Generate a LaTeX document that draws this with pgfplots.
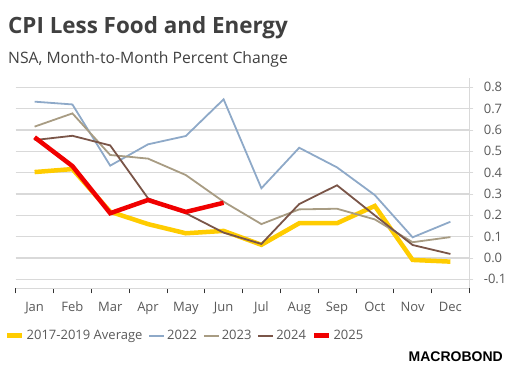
\documentclass[border=0pt]{standalone}
\usepackage{pgfplots}
\pgfplotsset{compat=1.18}
\usepackage{fontspec}
\setmainfont{Open Sans}
\newfontfamily\logofont{Liberation Sans}
\definecolor{cyel}{HTML}{FFCC00}
\definecolor{cblue}{HTML}{8EA9C8}
\definecolor{ctan}{HTML}{A89C83}
\definecolor{cbrown}{HTML}{7A5548}
\definecolor{cred}{HTML}{F00000}
\definecolor{ctxt}{HTML}{404040}
\definecolor{clab}{HTML}{595959}
\definecolor{cgrid}{HTML}{D9D9D9}
\begin{document}
\begin{tikzpicture}[x=1pt,y=1pt]
\path[use as bounding box] (0,0) rectangle (511,377);
\node[anchor=base west,inner sep=0,text=ctxt,font=\fontsize{22.4}{26}\selectfont\bfseries] at (8,{377-33.3}) {CPI Less Food and Energy};
\node[anchor=base west,inner sep=0,text=ctxt,font=\fontsize{15.7}{18}\selectfont] at (8,{377-63.3}) {NSA, Month-to-Month Percent Change};
\begin{axis}[
  at={(15.7pt,88.7pt)}, anchor=south west,
  scale only axis, width=453.6pt, height=210.3pt,
  xmin=0.5, xmax=12.5, ymin=-0.142, ymax=0.844,
  axis x line*=bottom, axis y line*=right,
  axis line style={-,draw=cgrid,line width=1pt},
  xtick={1,...,12},
  xticklabels={Jan,Feb,Mar,Apr,May,Jun,Jul,Aug,Sep,Oct,Nov,Dec},
  major x tick style={draw=none},
  minor xtick={0.5,1.5,...,12.5},
  minor x tick style={draw=black!80,line width=0.8pt},
  minor tick length=5pt,
  tick align=outside,
  ytick={-0.1,0,0.1,0.2,0.3,0.4,0.5,0.6,0.7,0.8},
  major y tick style={draw=cgrid,line width=1pt},
  major tick length=4pt,
  ymajorgrids, grid style={draw=cgrid,line width=1.2pt},
  yticklabel style={anchor=west,xshift=7pt},
  xticklabel style={yshift=-6pt},
  y tick label style={/pgf/number format/.cd,fixed,fixed zerofill,precision=1},
  /pgf/number format/assume math mode=true,
  tick label style={font=\fontsize{13}{15}\selectfont,text=clab},
  legend style={at={(axis description cs:-0.0236,-0.225)},anchor=west,legend columns=-1,draw=none,fill=none,inner sep=0pt,font=\fontsize{13}{15}\selectfont,text=clab,
    nodes={inner sep=1pt},
    /tikz/every odd column/.append style={column sep=1pt},
    /tikz/every even column/.append style={column sep=5pt}},
  legend image code/.code={\draw[#1] (0pt,0pt) -- (15pt,0pt);},
  clip=false,
]
\addplot[cyel,line width=4.5pt] coordinates {(1,0.403)(2,0.417)(3,0.217)(4,0.159)(5,0.116)(6,0.127)(7,0.062)(8,0.163)(9,0.163)(10,0.244)(11,-0.009)(12,-0.017)};
\addlegendentry{2017-2019 Average}
\addplot[cblue,line width=1.8pt] coordinates {(1,0.733)(2,0.720)(3,0.433)(4,0.533)(5,0.572)(6,0.744)(7,0.327)(8,0.517)(9,0.425)(10,0.295)(11,0.097)(12,0.170)};
\addlegendentry{2022}
\addplot[ctan,line width=1.8pt] coordinates {(1,0.616)(2,0.678)(3,0.483)(4,0.466)(5,0.389)(6,0.264)(7,0.159)(8,0.228)(9,0.231)(10,0.181)(11,0.074)(12,0.098)};
\addlegendentry{2023}
\addplot[cbrown,line width=1.8pt] coordinates {(1,0.553)(2,0.573)(3,0.528)(4,0.280)(5,0.210)(6,0.119)(7,0.066)(8,0.253)(9,0.341)(10,0.200)(11,0.061)(12,0.019)};
\addlegendentry{2024}
\addplot[cred,line width=4.5pt] coordinates {(1,0.566)(2,0.431)(3,0.210)(4,0.272)(5,0.216)(6,0.259)};
\addlegendentry{2025}
\end{axis}
\node[anchor=base east,inner sep=0,font=\logofont\fontsize{14}{16}\selectfont\bfseries] at (503,{377-362}) {MACROBOND};
\end{tikzpicture}
\end{document}
